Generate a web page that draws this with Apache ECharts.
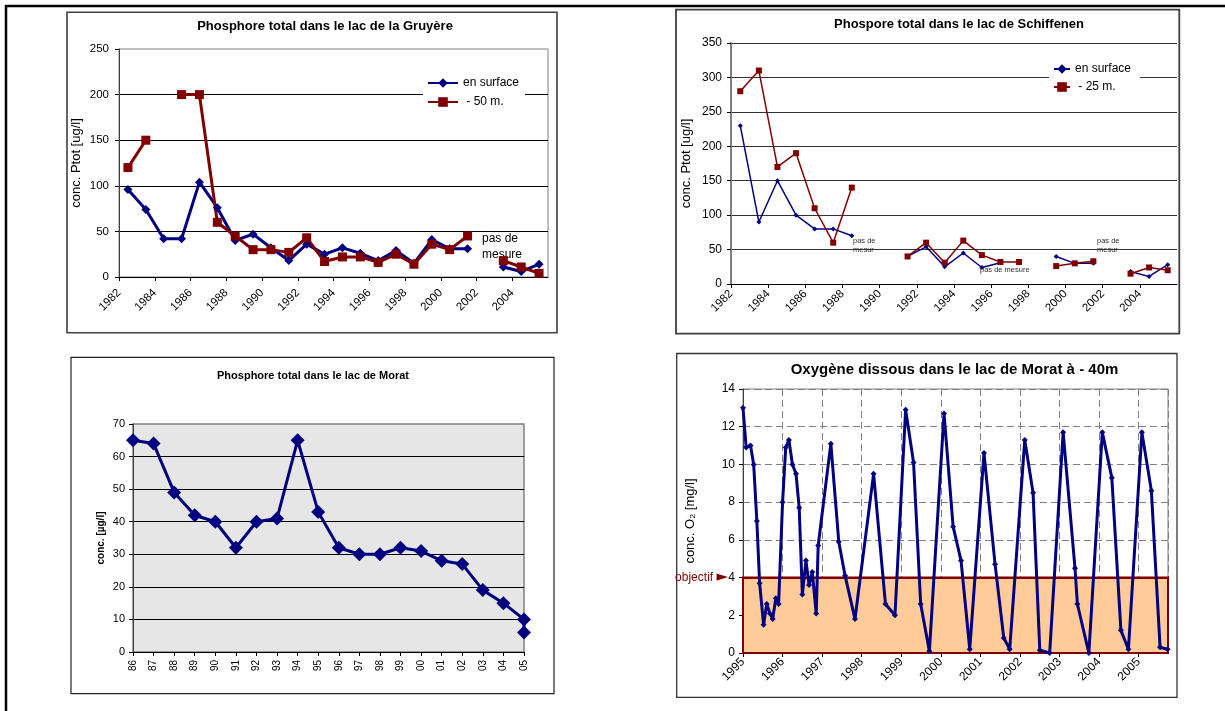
<!DOCTYPE html>
<html><head><meta charset="utf-8">
<script src="https://cdn.jsdelivr.net/npm/echarts@6/dist/echarts.min.js"></script>
<style>html,body{margin:0;padding:0;background:#fff;}.c{position:absolute;left:0;top:0;width:1225px;height:711px;}</style>
</head><body>
<div id="c1" class="c"></div><div id="c2" class="c"></div><div id="c3" class="c"></div><div id="c4" class="c"></div>
<script>
// ---------- DATA ----------
const years = [1982,1983,1984,1985,1986,1987,1988,1989,1990,1991,1992,1993,1994,1995,1996,1997,1998,1999,2000,2001,2002,2003,2004,2005];
const gruSurface = [96,74,42,42,104,76,40,47,32,18,36,25,32,26,18,29,15,41,31,31,null,11,6,14];
const gru50m     = [120,150,null,200,200,60,45,30,30,27,43,17,22,22,16,25,14,36,30,45,null,18,11,4];
const schSurface = [230,90,150,100,80,80,70,null,null,40,54,25,45,24,31,null,null,40,30,30,null,18,11,28];
const sch25m     = [280,310,170,190,110,60,140,null,null,40,60,31,63,42,32,32,null,26,30,33,null,15,24,20];
const moratLabels = ['86','87','88','89','90','91','92','93','94','95','96','97','98','99','00','01','02','03','04','05'];
const moratPYear  = ['86','87','88','89','90','91','92','93','94','95','96','97','98','99','00','01','02','03','04','05','05'];
const moratP      = [65,64,49,42,40,32,40,41,65,43,32,30,30,32,31,28,27,19,15,10,6];
const o2Date = [1995.00,1995.08,1995.19,1995.27,1995.35,1995.42,1995.52,1995.60,1995.68,1995.75,1995.83,1995.90,
  1996.00,1996.08,1996.16,1996.25,1996.34,1996.42,1996.50,1996.59,1996.67,1996.75,1996.85,1996.90,
  1997.22,1997.42,1997.58,1997.83,1998.30,1998.60,1998.84,1999.11,1999.31,1999.49,1999.71,
  2000.08,2000.31,2000.51,2000.73,2001.09,2001.37,2001.59,2001.74,2002.12,2002.33,2002.50,2002.75,
  2003.09,2003.39,2003.45,2003.74,2004.08,2004.32,2004.55,2004.74,2005.08,2005.32,2005.54,2005.73];
const o2Value = [13.0,10.9,11.0,10.0,7.0,3.7,1.5,2.6,2.1,1.8,2.9,2.6,
  8.0,10.9,11.3,10.0,9.5,7.7,3.1,4.9,3.6,4.3,2.1,5.7,
  11.1,5.9,4.1,1.8,9.5,2.6,2.0,12.9,10.1,2.6,0.1,
  12.7,6.7,4.9,0.2,10.6,4.7,0.8,0.2,11.3,8.5,0.15,0.0,
  11.7,4.5,2.6,0.0,11.7,9.3,1.2,0.2,11.7,8.6,0.3,0.2];
const o2Objective = 4;

// ---------- HELPERS ----------
const F = 'Liberation Sans, Arial, Helvetica, sans-serif';
const yearPairs = vals => years.map((y, i) => [y + 0.5, vals[i] == null ? '-' : vals[i]]);
const box = (x, y, w, h, stroke, lw) => ({type:'rect', shape:{x, y, width:w, height:h}, style:{fill:'none', stroke, lineWidth:lw}, silent:true, z:-1});
const txt = (x, y, text, size, weight, color, align, lh) => ({type:'text', x, y, silent:true,
  style:{text, fill:color || '#000', font:(weight || 'normal') + ' ' + size + 'px ' + F, align:align || 'left', verticalAlign:'top', lineHeight:lh || size * 1.2}});

// ---------- CHART 1: Gruyère ----------
const c1 = echarts.init(document.getElementById('c1'));
c1.setOption({
  animation:false, textStyle:{fontFamily:F},
  graphic:[
    {type:'line', shape:{x1:5, y1:6, x2:1225, y2:6}, style:{stroke:'#000', lineWidth:2.5}, silent:true},
    {type:'line', shape:{x1:6, y1:5, x2:6, y2:711}, style:{stroke:'#000', lineWidth:2.5}, silent:true},
    box(67, 12.3, 490, 320.5, '#404040', 1.6),
    txt(325, 19, 'Phosphore total dans le lac de la Gruyère', 13, 'bold', '#000', 'center'),
    txt(482, 231, 'pas de\nmesure', 12, 'normal', '#000', 'left', 16)
  ],
  grid:{left:119, top:49, width:429, height:228, show:true, borderColor:'#808080', borderWidth:1},
  legend:{orient:'vertical', left:423, top:74, padding:[3,6,3,4], itemWidth:30, itemHeight:12, itemGap:7,
    backgroundColor:'#fff', textStyle:{fontSize:12, color:'#000', fontFamily:F}},
  xAxis:{type:'value', min:1982, max:2006, interval:2,
    axisLine:{show:true, onZero:false, lineStyle:{color:'#000'}},
    axisTick:{show:true, length:4, lineStyle:{color:'#000'}},
    axisLabel:{rotate:45, fontSize:11.5, color:'#000', margin:14, showMaxLabel:false, formatter:v => String(v)},
    splitLine:{show:false}},
  yAxis:{type:'value', min:0, max:250, interval:50,
    axisLine:{show:true, onZero:false, lineStyle:{color:'#404040'}},
    axisTick:{show:true, length:4, lineStyle:{color:'#000'}},
    axisLabel:{fontSize:11.5, color:'#000', margin:10},
    splitLine:{show:true, showMaxLine:false, lineStyle:{color:'#000'}},
    name:'conc. Ptot [ug/l]', nameLocation:'middle', nameGap:36, nameTextStyle:{fontSize:13, color:'#000'}},
  series:[
    {type:'line', name:'en surface', data:yearPairs(gruSurface), symbol:'diamond', symbolSize:9,
      itemStyle:{color:'#000080'}, lineStyle:{color:'#000080', width:3}, connectNulls:false},
    {type:'line', name:' - 50 m.', data:yearPairs(gru50m), symbol:'rect', symbolSize:9,
      itemStyle:{color:'#800000'}, lineStyle:{color:'#800000', width:3}, connectNulls:false}
  ]
});

// ---------- CHART 2: Schiffenen ----------
const c2 = echarts.init(document.getElementById('c2'));
c2.setOption({
  animation:false, textStyle:{fontFamily:F},
  graphic:[
    box(676, 9.7, 503.3, 324, '#404040', 1.8),
    txt(959, 17, 'Phospore total dans le lac de Schiffenen', 13, 'bold', '#000', 'center'),
    txt(853, 236, 'pas de\nmesur', 7.5, 'normal', '#333', 'left', 9.5),
    txt(1097, 236, 'pas de\nmesur', 7.5, 'normal', '#333', 'left', 9.5),
    txt(980, 265, 'pas de mesure', 7.5, 'normal', '#333', 'left', 9.5)
  ],
  grid:{left:731, top:43, width:446, height:241, show:false},
  legend:{orient:'vertical', left:1049, top:61, padding:[2,9,2,4], itemWidth:16, itemHeight:12, itemGap:6,
    backgroundColor:'#fff', textStyle:{fontSize:12, color:'#000', fontFamily:F}},
  xAxis:{type:'value', min:1982, max:2006, interval:2,
    axisLine:{show:true, onZero:false, lineStyle:{color:'#000'}},
    axisTick:{show:true, length:4, lineStyle:{color:'#000'}},
    axisLabel:{rotate:45, fontSize:11.5, color:'#000', margin:8, showMaxLabel:false, formatter:v => String(v)},
    splitLine:{show:false}},
  yAxis:{type:'value', min:0, max:350, interval:50,
    axisLine:{show:true, onZero:false, lineStyle:{color:'#808080', width:2}},
    axisTick:{show:true, length:4, lineStyle:{color:'#000'}},
    axisLabel:{fontSize:12, color:'#000', margin:9},
    splitLine:{show:true, lineStyle:{color:'#333'}},
    name:'conc. Ptot [ug/l]', nameLocation:'middle', nameGap:38, nameTextStyle:{fontSize:13, color:'#000'}},
  series:[
    {type:'line', name:'en surface', data:yearPairs(schSurface), symbol:'diamond', symbolSize:5,
      itemStyle:{color:'#000080'}, lineStyle:{color:'#000080', width:1.5}, connectNulls:false},
    {type:'line', name:' - 25 m.', data:yearPairs(sch25m), symbol:'rect', symbolSize:6,
      itemStyle:{color:'#800000'}, lineStyle:{color:'#800000', width:1.5}, connectNulls:false}
  ]
});

// ---------- CHART 3: Morat phosphore ----------
const c3 = echarts.init(document.getElementById('c3'));
c3.setOption({
  animation:false, textStyle:{fontFamily:F},
  graphic:[
    box(71, 357.3, 483, 336.3, '#222', 1.2),
    txt(313, 369, 'Phosphore total dans le lac de Morat', 11, 'bold', '#000', 'center')
  ],
  grid:{left:133, top:424, width:391, height:228, show:true, backgroundColor:'#e6e6e6', borderColor:'#808080', borderWidth:1.5},
  xAxis:{type:'value', min:0, max:moratLabels.length - 1, interval:1,
    axisLine:{show:true, onZero:false, lineStyle:{color:'#000'}},
    axisTick:{show:true, length:4, lineStyle:{color:'#000'}},
    axisLabel:{rotate:90, fontSize:10, color:'#000', margin:8, formatter:v => moratLabels[v] || ''},
    splitLine:{show:false}},
  yAxis:{type:'value', min:0, max:70, interval:10,
    axisLine:{show:true, onZero:false, lineStyle:{color:'#404040'}},
    axisTick:{show:true, length:4, lineStyle:{color:'#000'}},
    axisLabel:{fontSize:11, color:'#000', margin:8},
    splitLine:{show:true, showMaxLine:false, lineStyle:{color:'#000'}},
    name:'conc. [µg/l]', nameLocation:'middle', nameGap:27, nameTextStyle:{fontSize:10, fontWeight:'bold', color:'#000'}},
  series:[
    {type:'line', data:moratP.map((v, i) => [moratLabels.indexOf(moratPYear[i]), v]), symbol:'diamond', symbolSize:14,
      itemStyle:{color:'#000080'}, lineStyle:{color:'#000080', width:3}}
  ]
});

// ---------- CHART 4: Oxygène ----------
const c4 = echarts.init(document.getElementById('c4'));
c4.setOption({
  animation:false, textStyle:{fontFamily:F},
  graphic:[
    box(676.7, 353.5, 500.3, 343.8, '#333', 1.3),
    txt(954.5, 361, 'Oxygène dissous dans le lac de Morat à - 40m', 15, 'bold', '#000', 'center')
  ],
  grid:{left:743, top:389, width:425, height:264, show:true, borderColor:'#808080', borderWidth:1},
  xAxis:{type:'value', min:1995, max:2005.74, interval:1,
    axisLine:{show:true, onZero:false, lineStyle:{color:'#000'}},
    axisTick:{show:true, length:4, lineStyle:{color:'#000'}},
    axisLabel:{rotate:45, fontSize:12, color:'#000', margin:7, showMaxLabel:false, formatter:v => (v % 1 === 0 ? String(v) : '')},
    splitLine:{show:true, lineStyle:{color:'#808080', type:[7,4]}}},
  yAxis:{type:'value', min:0, max:14, interval:2,
    axisLine:{show:true, onZero:false, lineStyle:{color:'#404040'}},
    axisTick:{show:true, length:4, lineStyle:{color:'#000'}},
    axisLabel:{fontSize:12, color:'#000', margin:8},
    splitLine:{show:true, lineStyle:{color:'#808080', type:[7,4]}},
    name:'conc. O₂ [mg/l]', nameLocation:'middle', nameGap:46,
    nameTextStyle:{fontSize:13, color:'#000'}},
  series:[
    {type:'line', data:o2Date.map((d, i) => [d, o2Value[i]]), symbol:'diamond', symbolSize:6,
      itemStyle:{color:'#000080'}, lineStyle:{color:'#000080', width:3}, z:5,
      markArea:{silent:true, itemStyle:{color:'#FFCC99', borderColor:'#800000', borderWidth:2},
        data:[[{yAxis:0}, {yAxis:o2Objective}]]},
      markLine:{silent:true, symbol:['none','none'], lineStyle:{color:'#800000', width:2, type:'solid'},
        label:{show:true, position:'start', distance:15, formatter:'objectif {a|►}', color:'#800000', fontSize:12, fontFamily:F,
          rich:{a:{fontSize:15, color:'#800000', fontFamily:'DejaVu Sans'}}},
        emphasis:{disabled:true},
        data:[{yAxis:o2Objective}]}}
  ]
});
</script>
</body></html>
